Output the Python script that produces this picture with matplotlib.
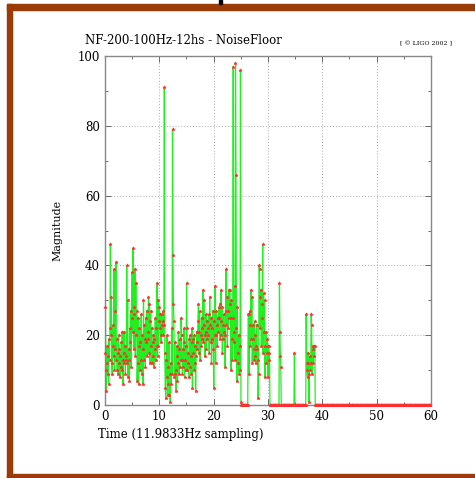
import numpy as np
import matplotlib.pyplot as plt
from matplotlib.patches import Rectangle

# -------------------------------------------------
# Daten (12 Werte pro Zeiteinheit)
# -------------------------------------------------

sample_rate = 11.9833

magnitude = [
    15, 28, 10, 4, 12, 17, 9, 14, 6, 19, 13, 22,
    46, 20, 31, 12, 9, 17, 23, 14, 39, 10, 27, 16,
    41, 13, 19, 10, 15, 9, 20, 12, 16, 8, 14, 11,
    18, 10, 21, 13, 6, 15, 21, 12, 17, 9, 14, 13,
    40, 12, 30, 8, 16, 13, 7, 22, 18, 27, 11, 25,
    38, 21, 45, 28, 16, 26, 39, 14, 35, 20, 27, 7,
    12, 25, 6, 17, 22, 10, 18, 13, 26, 9, 20, 16,
    6, 30, 13, 23, 19, 11, 25, 18, 27, 14, 21, 19,
    31, 15, 29, 12, 24, 27, 17, 22, 12, 18, 14, 20,
    11, 19, 16, 25, 13, 22, 17, 35, 14, 30, 17, 24,
    28, 22, 26, 20, 18, 26, 23, 24, 20, 27, 23, 91,
    15, 5, 2, 13, 8, 20, 3, 11, 6, 18, 3, 9,
    1, 12, 6, 22, 9, 79, 43, 29, 24, 8, 18, 9,
    10, 4, 14, 17, 7, 12, 21, 9, 16, 11, 19, 13,
    25, 20, 13, 9, 16, 11, 22, 18, 8, 13, 17, 10,
    35, 22, 10, 15, 12, 8, 19, 11, 20, 14, 9, 18,
    22, 5, 19, 15, 10, 20, 12, 17, 4, 14, 21, 16,
    18, 24, 29, 15, 21, 27, 13, 20, 17, 25, 19, 22,
    33, 18, 30, 23, 20, 14, 21, 26, 16, 24, 19, 22,
    20, 26, 15, 31, 23, 18, 25, 12, 22, 19, 27, 16,
    5, 24, 20, 34, 12, 27, 20, 23, 17, 25, 21, 28,
    25, 29, 19, 24, 33, 20, 28, 15, 23, 19, 26, 21,
    20, 11, 27, 39, 23, 31, 17, 27, 22, 33, 25, 29,
    33, 25, 10, 30, 19, 13, 25, 97, 18, 21, 34, 13,
    98, 66, 22, 7, 28, 15, 12, 20, 9, 17, 10, 96,
    1, 0, 0, 0, 0, 0, 0, 0, 0, 0, 0, 0,
    0, 0, 0, 0, 26, 26, 9, 23, 27, 17, 33, 19,
    31, 12, 19, 23, 16, 13, 24, 14, 20, 12, 17, 23,
    16, 13, 2, 9, 40, 39, 22, 31, 33, 17, 25, 29,
    46, 15, 32, 21, 30, 8, 17, 12, 21, 15, 19, 17,
    8, 17, 13, 15, 0, 0, 0, 0, 0, 0, 0, 0,
    0, 0, 0, 0, 0, 0, 0, 0, 0, 0, 0, 0,
    0, 35, 21, 14, 11, 0, 0, 0, 0, 0, 0, 0,
    0, 0, 0, 0, 0, 0, 0, 0, 0, 0, 0, 0,
    0, 0, 0, 0, 0, 0, 0, 0, 0, 0, 15, 0,
    0, 0, 0, 0, 0, 0, 0, 0, 0, 0, 0, 0,
    0, 0, 0, 0, 0, 0, 0, 0, 0, 0, 0, 0,
    26, 12, 10, 8, 15, 12, 1, 9, 14, 10, 12, 26,
    23, 9, 17, 12, 16, 17, 14, 17, 0, 0, 0, 0,
]
# Rest bis 60: nur Nullen
magnitude = magnitude + [0] * (719 - len(magnitude))

times = np.arange(len(magnitude)) / sample_rate

# -------------------------------------------------
# Plot
# -------------------------------------------------

plt.rcParams['font.family'] = 'DejaVu Serif'

fig = plt.figure(figsize=(4.75, 4.78), dpi=100)
ax = fig.add_axes([0.221, 0.1527, 0.686, 0.730])

ax.plot(times, magnitude, color='#22ee22', lw=0.9, zorder=2)
ax.plot(times, magnitude, ls='none', marker='*', ms=2.4, mew=0.4,
        color='#ff3030', zorder=3, clip_on=False)

ax.set_xlim(0, 60)
ax.set_ylim(0, 100)
ax.set_xticks(np.arange(0, 61, 10))
ax.set_xticks(np.arange(5, 60, 10), minor=True)
ax.set_yticks(np.arange(0, 101, 20))
ax.set_yticks(np.arange(10, 100, 20), minor=True)
ax.tick_params(which='both', direction='in', top=True, right=True,
               color='#555555', labelsize=8.5)
ax.tick_params(which='major', length=4, width=0.6)
ax.tick_params(which='minor', length=2, width=0.6)
ax.grid(True, which='major', ls=(0, (1, 2)), color='#aaaaaa', lw=0.7)
for s in ax.spines.values():
    s.set_color('#888888')
    s.set_linewidth(1.0)

ax.set_xlabel('Time (11.9833Hz sampling)', fontsize=8.5)
ax.xaxis.set_label_coords(-0.02, -0.065)
ax.xaxis.label.set_horizontalalignment('left')
ax.set_ylabel('Magnitude', fontsize=8)
ax.yaxis.set_label_coords(-0.13, 0.5)

fig.text(85 / 475, 1 - 40 / 478, 'NF-200-100Hz-12hs - NoiseFloor',
         fontsize=8.5, va='center', ha='left')
fig.text(452 / 475, 1 - 44 / 478, '[ \u00a9 LIGO 2002 ]',
         fontsize=4.5, va='center', ha='right')

# brauner Rahmen
brown = '#9c3a08'
fig.patches.append(Rectangle((7 / 475, 1 - 10 / 478), 1, 6 / 478,
                             transform=fig.transFigure, color=brown))
fig.patches.append(Rectangle((7 / 475, 0), 5 / 475, 1 - 4 / 478,
                             transform=fig.transFigure, color=brown))
fig.patches.append(Rectangle((7 / 475, 0), 1, 4 / 478,
                             transform=fig.transFigure, color=brown))
fig.patches.append(Rectangle((219 / 475, 1 - 4 / 478), 3 / 475, 4 / 478,
                             transform=fig.transFigure, color='black'))

fig.savefig('out.png', dpi=100)
